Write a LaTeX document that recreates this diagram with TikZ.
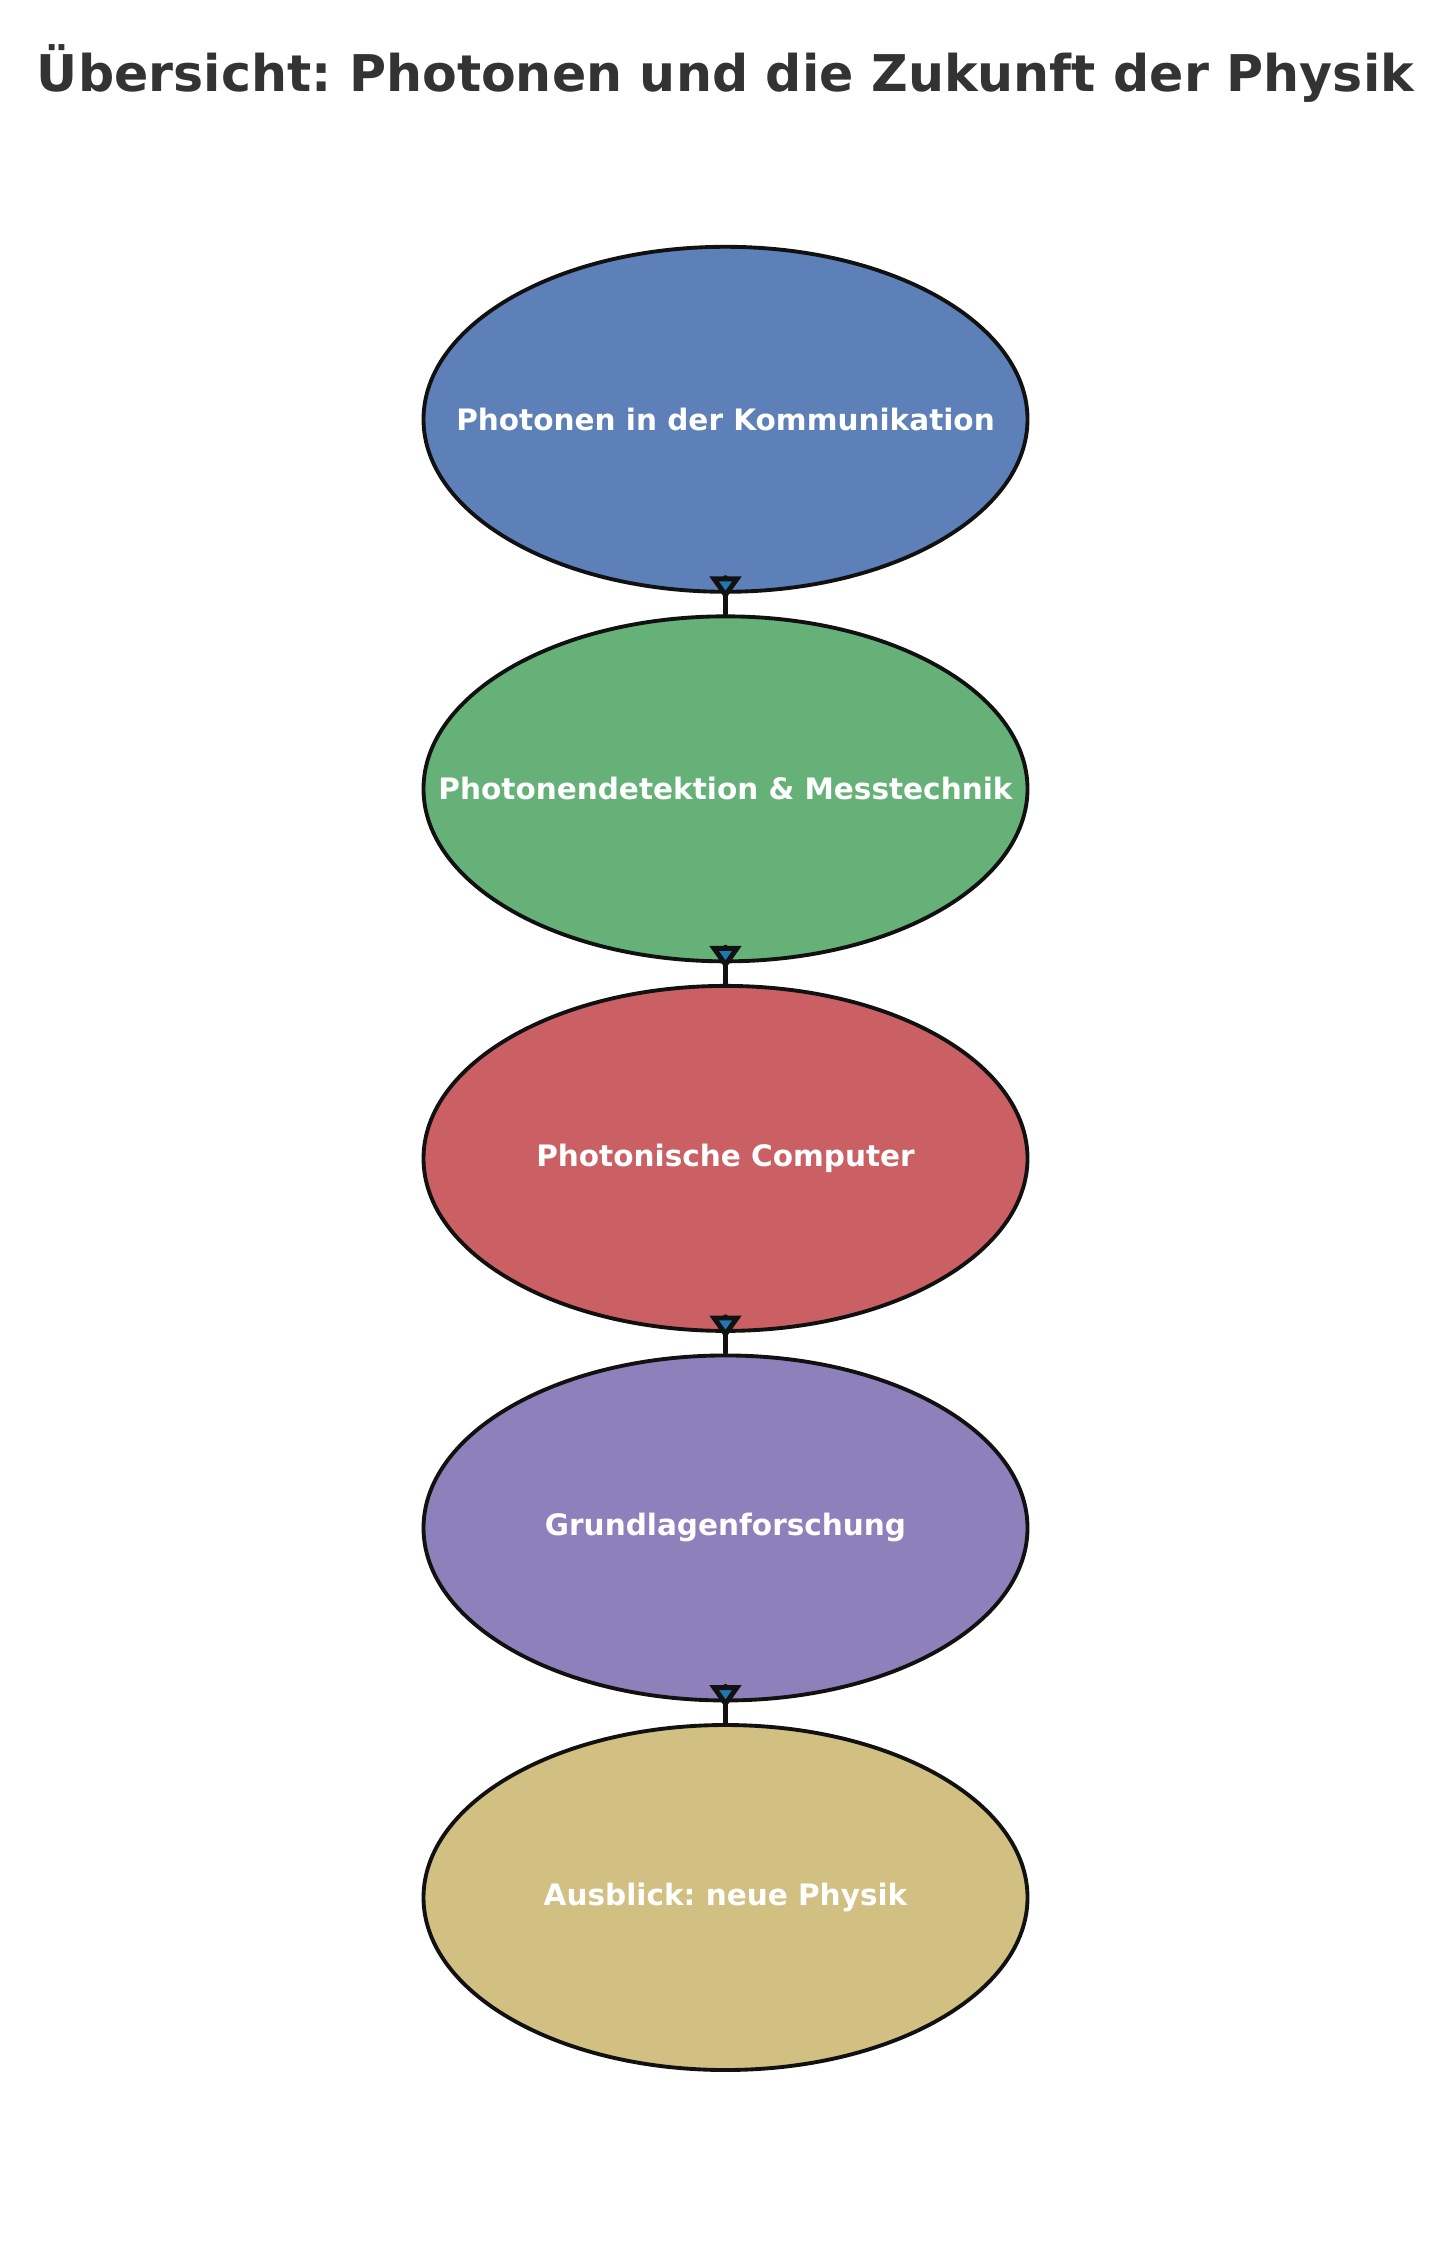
\documentclass[tikz,border=0pt]{standalone}
\usepackage{fontspec}
\setmainfont{DejaVu Sans}
\frenchspacing
\usetikzlibrary{shapes.geometric,arrows.meta}

\definecolor{titlegray}{HTML}{333333}
\definecolor{edgeblack}{HTML}{111111}
\definecolor{tipblue}{HTML}{1F77B4}
\definecolor{stageblue}{HTML}{5E80B8}
\definecolor{stagegreen}{HTML}{66B177}
\definecolor{stagered}{HTML}{CA6063}
\definecolor{stagepurple}{HTML}{8E80BA}
\definecolor{stagetan}{HTML}{D1C082}

\tikzset{
    stage/.style={ellipse, draw=edgeblack, line width=1.1pt, minimum width=6.04cm,
        minimum height=3.45cm, inner sep=0pt, text=white,
        font=\fontsize{8.4}{10}\selectfont\bfseries},
    flow/.style={draw=edgeblack, line width=1.4pt, line cap=round, line join=round,
        -{Triangle[length=2.3mm,width=3.1mm,fill=tipblue]},
        shorten <=-2mm, shorten >=1.5mm},
}

\begin{document}
\begin{tikzpicture}
\useasboundingbox (0,0) rectangle (14.51,-22.44);

% Draw the title
\node[text=titlegray, font=\fontsize{14.4}{17}\selectfont\bfseries, anchor=base]
    (title) at (7.255,-0.917) {Übersicht: Photonen und die Zukunft der Physik};

% Draw the stages from top to bottom
\foreach[count=\i] \lbl/\col in {
    Photonen in der Kommunikation/stageblue,
    Photonendetektion \& Messtechnik/stagegreen,
    Photonische Computer/stagered,
    Grundlagenforschung/stagepurple,
    Ausblick: neue Physik/stagetan} {
    \node[stage, fill=\col] (s\i) at (7.255,{-4.193-3.6955*(\i-1)}) {\makebox[0pt]{\lbl}};
}

% Draw the arrows between the stages
\foreach[evaluate=\i as \j using int(\i+1)] \i in {1,...,4} {
    \draw[flow] (s\i.south) -- (s\j.north);
}

\end{tikzpicture}
\end{document}
